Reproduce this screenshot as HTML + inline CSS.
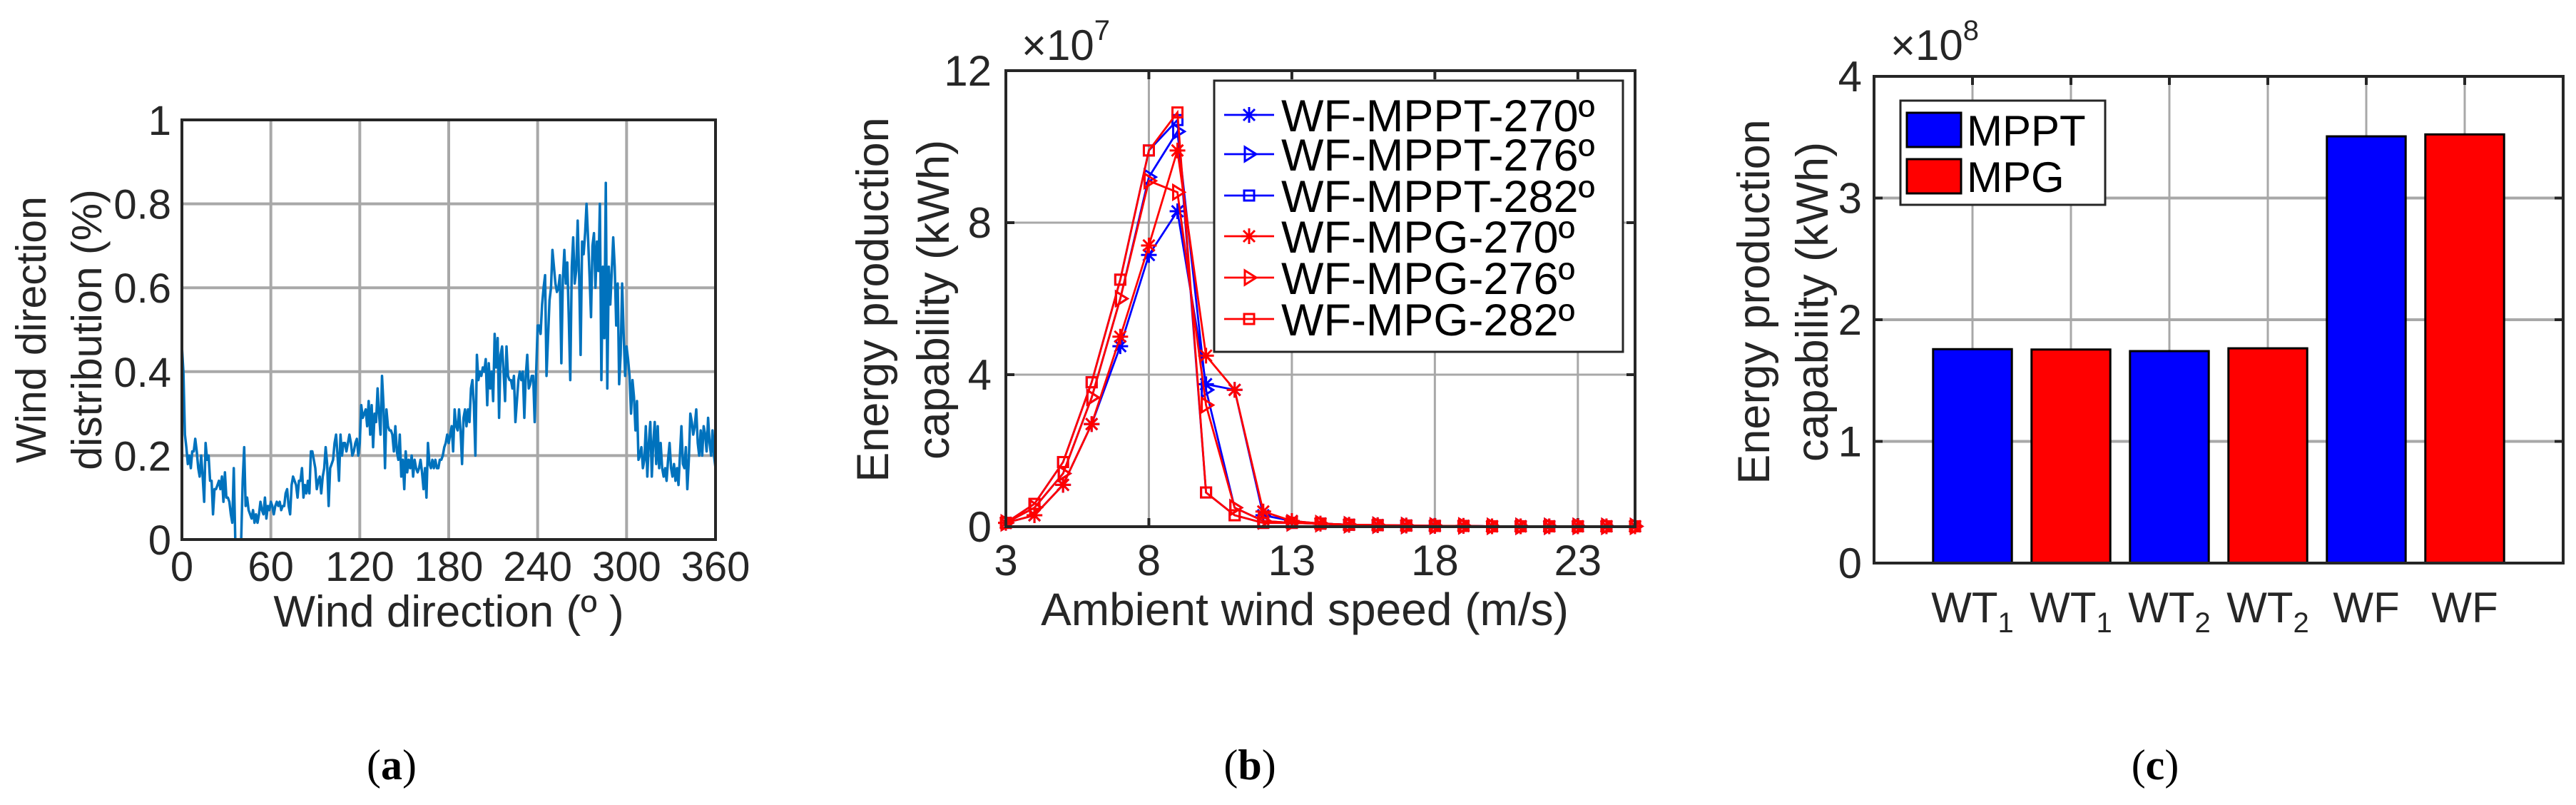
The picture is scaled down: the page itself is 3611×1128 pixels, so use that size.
<!DOCTYPE html>
<html><head><meta charset="utf-8"><style>
body{margin:0;background:#fff;}
svg{display:block;font-family:"Liberation Sans",sans-serif;}
</style></head><body>
<svg id="fig" width="3611" height="1128" viewBox="0 0 3611 1128" xmlns="http://www.w3.org/2000/svg">
<rect x="0" y="0" width="3611" height="1128" fill="#fff"/>
<g id="pa"></g>
<g id="pb"></g>
<g id="pc"></g>
<text x="549" y="1092" font-family="Liberation Serif, serif" font-size="60" text-anchor="middle" fill="#000">(<tspan font-weight="bold">a</tspan>)</text>
<text x="1752" y="1092" font-family="Liberation Serif, serif" font-size="60" text-anchor="middle" fill="#000">(<tspan font-weight="bold">b</tspan>)</text>
<text x="3021" y="1092" font-family="Liberation Serif, serif" font-size="60" text-anchor="middle" fill="#000">(<tspan font-weight="bold">c</tspan>)</text>
</svg>
<script>
// ---------- Panel A data ----------
const dirDeg0 = 0; // series starts at 0 deg, 1 deg step
const dirValues = [0.46,0.40,0.25,0.22,0.18,0.20,0.17,0.21,0.21,0.24,0.21,0.17,0.15,0.20,0.15,0.09,0.23,0.19,0.20,0.14,
0.14,0.06,0.12,0.12,0.13,0.14,0.12,0.15,0.09,0.16,0.10,0.10,0.09,0.06,0.04,0.17,0,0,0,0,
0,0.14,0.22,0.08,0.10,0.07,0.06,0.05,0.07,0.04,0.06,0.04,0.06,0.09,0.07,0.06,0.10,0.05,0.08,0.07,
0.09,0.08,0.06,0.08,0.09,0.08,0.09,0.07,0.08,0.08,0.11,0.12,0.08,0.06,0.13,0.15,0.14,0.13,0.10,0.14,
0.14,0.17,0.10,0.13,0.11,0.14,0.11,0.21,0.21,0.19,0.17,0.12,0.14,0.15,0.11,0.15,0.17,0.22,0.18,0.08,
0.17,0.18,0.19,0.23,0.25,0.20,0.14,0.25,0.20,0.23,0.23,0.21,0.23,0.25,0.23,0.20,0.21,0.23,0.24,0.20,
0.23,0.32,0.29,0.30,0.31,0.27,0.33,0.25,0.32,0.22,0.30,0.28,0.36,0.30,0.25,0.39,0.32,0.17,0.31,0.27,
0.26,0.26,0.25,0.21,0.27,0.21,0.19,0.25,0.15,0.19,0.12,0.21,0.16,0.19,0.17,0.20,0.15,0.19,0.17,0.16,
0.17,0.19,0.16,0.12,0.17,0.10,0.23,0.18,0.17,0.19,0.17,0.19,0.17,0.17,0.19,0.19,0.20,0.22,0.23,0.25,
0.23,0.25,0.27,0.21,0.31,0.27,0.26,0.31,0.26,0.18,0.29,0.31,0.27,0.31,0.28,0.36,0.38,0.32,0.20,0.44,
0.38,0.40,0.39,0.41,0.40,0.43,0.32,0.42,0.36,0.40,0.33,0.49,0.41,0.48,0.29,0.44,0.46,0.40,0.33,0.46,
0.39,0.38,0.38,0.36,0.39,0.28,0.33,0.38,0.40,0.38,0.40,0.29,0.39,0.44,0.36,0.37,0.39,0.39,0.28,0.40,
0.51,0.51,0.49,0.56,0.60,0.63,0.39,0.48,0.57,0.60,0.69,0.65,0.61,0.59,0.60,0.63,0.42,0.62,0.69,0.61,
0.66,0.53,0.38,0.65,0.72,0.61,0.64,0.76,0.63,0.44,0.71,0.68,0.73,0.80,0.72,0.63,0.53,0.70,0.73,0.60,
0.71,0.64,0.80,0.38,0.65,0.48,0.85,0.36,0.65,0.56,0.64,0.72,0.65,0.51,0.61,0.37,0.44,0.61,0.49,0.39,
0.46,0.43,0.39,0.30,0.38,0.34,0.26,0.33,0.19,0.20,0.22,0.17,0.19,0.27,0.15,0.23,0.28,0.15,0.23,0.28,
0.18,0.27,0.17,0.23,0.17,0.15,0.17,0.14,0.19,0.23,0.17,0.15,0.18,0.14,0.17,0.13,0.20,0.27,0.18,0.17,
0.22,0.12,0.19,0.30,0.28,0.25,0.27,0.31,0.23,0.20,0.26,0.20,0.27,0.25,0.21,0.29,0.23,0.20,0.26,0.20,0.17];
const dirXTicks = [0,60,120,180,240,300,360];
const dirYTicks = [0,0.2,0.4,0.6,0.8,1];
const dirYTickLabels = ["0","0.2","0.4","0.6","0.8","1"];

// ---------- Panel B data ----------
const speedX = [3,4,5,6,7,8,9,10,11,12,13,14,15,16,17,18,19,20,21,22,23,24,25];
const mppt270 = [0.1,0.3,1.1,2.7,4.75,7.15,8.3,3.75,3.6,0.3,0.15,0.08,0.05,0.04,0.03,0.02,0.02,0.01,0.01,0.01,0.01,0.01,0.01];
const mppt276 = [0.1,0.5,1.4,3.4,6.0,9.2,10.4,3.6,0.5,0.15,0.1,0.08,0.05,0.04,0.03,0.02,0.02,0.01,0.01,0.01,0.01,0.01,0.01];
const mppt282 = [0.1,0.6,1.7,3.8,6.5,9.9,10.7,0.9,0.3,0.1,0.1,0.08,0.05,0.04,0.03,0.02,0.02,0.01,0.01,0.01,0.01,0.01,0.01];
const mpg270 = [0.1,0.3,1.1,2.7,5.0,7.4,9.9,4.5,3.6,0.4,0.15,0.08,0.05,0.04,0.03,0.02,0.02,0.01,0.01,0.01,0.01,0.01,0.01];
const mpg276 = [0.1,0.5,1.4,3.4,6.0,9.1,8.8,3.2,0.5,0.15,0.1,0.08,0.05,0.04,0.03,0.02,0.02,0.01,0.01,0.01,0.01,0.01,0.01];
const mpg282 = [0.1,0.6,1.7,3.8,6.5,9.9,10.9,0.9,0.3,0.1,0.1,0.08,0.05,0.04,0.03,0.02,0.02,0.01,0.01,0.01,0.01,0.01,0.01];
const speedXTicks = [3,8,13,18,23];
const energyYTicks = [0,4,8,12];
const seriesNames = ["WF-MPPT-270º","WF-MPPT-276º","WF-MPPT-282º","WF-MPG-270º","WF-MPG-276º","WF-MPG-282º"];

// ---------- Panel C data ----------
const barCategories = ["WT1","WT1","WT2","WT2","WF","WF"];
const barValues = [1.758,1.755,1.742,1.765,3.507,3.523];
const barSeries = ["MPPT","MPG","MPPT","MPG","MPPT","MPG"];
const barYTicks = [0,1,2,3,4];

const NS = "http://www.w3.org/2000/svg";
function mk(parent, tag, attrs){const e=document.createElementNS(NS,tag);for(const k in attrs)e.setAttribute(k,attrs[k]);parent.appendChild(e);return e;}
const TXT="#262626", GRID="#a8a8a8", AX="#262626";
const TICKF=58, TITLEF=62;

// ===== Panel A =====
(function(){
  const g=document.getElementById('pa');
  const L=255,R=1003,T=168,B=756;
  const xs=d=>L+(d-0)/360*(R-L);
  const ys=v=>B-v*(B-T);
  dirXTicks.forEach(t=>{
    if(t>0&&t<360){const l=mk(g,'line',{x1:xs(t),x2:xs(t),y1:T,y2:B,stroke:GRID,'stroke-width':4});
    
    }
    const tx=mk(g,'text',{x:xs(t),y:814,'font-size':TICKF,'text-anchor':'middle',fill:TXT});
    tx.textContent=t;
    
    
  });
  dirYTicks.forEach((t,i)=>{
    if(t>0&&t<1){const l=mk(g,'line',{x1:L,x2:R,y1:ys(t),y2:ys(t),stroke:GRID,'stroke-width':4});
    
    }
    const tx=mk(g,'text',{x:240,y:ys(t)+21,'font-size':TICKF,'text-anchor':'end',fill:TXT});
    tx.textContent=dirYTickLabels[i];
    
    
  });
  const pts=dirValues.map((v,i)=>xs(dirDeg0+i).toFixed(1)+','+ys(v).toFixed(1)).join(' ');
  const pl=mk(g,'polyline',{points:pts,fill:'none',stroke:'#0072BD','stroke-width':3.5,'stroke-linejoin':'round'});
  
  
  const box=mk(g,'rect',{x:L,y:T,width:R-L,height:B-T,fill:'none',stroke:AX,'stroke-width':4});
  
  
  const xt=mk(g,'text',{x:(L+R)/2,y:878,'font-size':TITLEF,'text-anchor':'middle',fill:TXT});
  xt.textContent='Wind direction (º )';
  
  
  const yt=mk(g,'text',{transform:'translate(64,462) rotate(-90)','font-size':59,'text-anchor':'middle',fill:TXT});
  yt.textContent='Wind direction';
  
  
  const yt2=mk(g,'text',{transform:'translate(142,462) rotate(-90)','font-size':59,'text-anchor':'middle',fill:TXT});
  yt2.textContent='distribution (%)';
  
  
})();

// ===== Panel B =====
function marker(g,type,x,y,color){
  let e;
  if(type==='star'){
    e=mk(g,'path',{d:`M${x-11},${y}H${x+11}M${x},${y-11}V${y+11}M${x-8},${y-8}L${x+8},${y+8}M${x-8},${y+8}L${x+8},${y-8}`,stroke:color,'stroke-width':3,fill:'none'});
  }else if(type==='tri'){
    e=mk(g,'path',{d:`M${x-6},${y-10}L${x+10},${y}L${x-6},${y+10}Z`,stroke:color,'stroke-width':3,fill:'none'});
  }else{
    e=mk(g,'rect',{x:x-7,y:y-7,width:14,height:14,stroke:color,'stroke-width':3,fill:'none'});
  }
  return e;
}
(function(){
  const g=document.getElementById('pb');
  const L=1410,R=2292,T=99,B=738;
  const xs=v=>L+(v-3)/22*(R-L);
  const ys=v=>B-v/12*(B-T);
  speedXTicks.forEach(t=>{
    if(t>3){const l=mk(g,'line',{x1:xs(t),x2:xs(t),y1:T,y2:B,stroke:GRID,'stroke-width':3});
    
    }
    const tk=mk(g,'path',{d:`M${xs(t)},${B}v-12M${xs(t)},${T}v12`,stroke:AX,'stroke-width':4});
    
    
    const tx=mk(g,'text',{x:xs(t),y:806,'font-size':TICKF+2,'text-anchor':'middle',fill:TXT});
    tx.textContent=t;
    
    
  });
  energyYTicks.forEach(t=>{
    if(t>0&&t<12){const l=mk(g,'line',{x1:L,x2:R,y1:ys(t),y2:ys(t),stroke:GRID,'stroke-width':3});
    
    }
    const tk=mk(g,'path',{d:`M${L},${ys(t)}h12M${R},${ys(t)}h-12`,stroke:AX,'stroke-width':4});
    
    
    const tx=mk(g,'text',{x:1390,y:ys(t)+21,'font-size':TICKF+2,'text-anchor':'end',fill:TXT});
    tx.textContent=t;
    
    
  });
  const sets=[[mppt270,'#0000ff','star'],[mppt276,'#0000ff','tri'],[mppt282,'#0000ff','sq'],[mpg270,'#ff0000','star'],[mpg276,'#ff0000','tri'],[mpg282,'#ff0000','sq']];
  sets.forEach((s,si)=>{
    const sg=mk(g,'g',{});
    
    
    const pts=s[0].map((v,i)=>xs(speedX[i]).toFixed(1)+','+ys(v).toFixed(1)).join(' ');
    const pl=mk(sg,'polyline',{points:pts,fill:'none',stroke:s[1],'stroke-width':2.8});
    
    
    s[0].forEach((v,i)=>{
      const m=marker(sg,s[2],xs(speedX[i]),ys(v),s[1]);
      
      
    });
  });
  const box=mk(g,'rect',{x:L,y:T,width:R-L,height:B-T,fill:'none',stroke:AX,'stroke-width':4});
  
  
  const lg=mk(g,'g',{});
  
  
  const lb=mk(lg,'rect',{x:1702,y:113,width:573,height:380,fill:'#fff',stroke:AX,'stroke-width':3});
  
  
  const rowsY=[161,216,274,331,389,447];
  sets.forEach((s,i)=>{
    const y=rowsY[i];
    const ln=mk(lg,'line',{x1:1716,x2:1786,y1:y,y2:y,stroke:s[1],'stroke-width':2.8});
    
    
    const m=marker(lg,s[2],1751,y,s[1]);
    
    
    const tx=mk(lg,'text',{x:1796,y:y+23,'font-size':63,fill:'#000'});
    tx.textContent=seriesNames[i];
    
    
  });
  const ex=mk(g,'text',{x:1432,y:84,'font-size':60,fill:TXT});
  ex.innerHTML='×10<tspan font-size="40" dy="-28">7</tspan>';
  
  
  const xt=mk(g,'text',{x:1829,y:876,'font-size':TITLEF+2,'text-anchor':'middle',fill:TXT});
  xt.textContent='Ambient wind speed (m/s)';
  
  
  const yt=mk(g,'text',{transform:'translate(1245,420) rotate(-90)','font-size':63,'text-anchor':'middle',fill:TXT});
  yt.textContent='Energy production';
  
  
  const yt2=mk(g,'text',{transform:'translate(1330,420) rotate(-90)','font-size':63,'text-anchor':'middle',fill:TXT});
  yt2.setAttribute('xml:space','preserve');
  yt2.textContent='capability  (kWh)';
  
  
})();

// ===== Panel C =====
(function(){
  const g=document.getElementById('pc');
  const L=2627,R=3593,T=107,B=789;
  const step=(R-L)/(barCategories.length+1);
  const xs=i=>L+(i+1)*step;
  const ys=v=>B-v/4*(B-T);
  barCategories.forEach((c,i)=>{
    const l=mk(g,'line',{x1:xs(i),x2:xs(i),y1:T,y2:B,stroke:GRID,'stroke-width':3});
    
    
    const tk=mk(g,'path',{d:`M${xs(i)},${B}v-12M${xs(i)},${T}v12`,stroke:AX,'stroke-width':4});
    
    
  });
  barYTicks.forEach(t=>{
    if(t>0&&t<4){const l=mk(g,'line',{x1:L,x2:R,y1:ys(t),y2:ys(t),stroke:GRID,'stroke-width':4});
    
    }
    const tk=mk(g,'path',{d:`M${L},${ys(t)}h12M${R},${ys(t)}h-12`,stroke:AX,'stroke-width':4});
    
    
    const tx=mk(g,'text',{x:2610,y:ys(t)+21,'font-size':TICKF+2,'text-anchor':'end',fill:TXT});
    tx.textContent=t;
    
    
  });
  const bw=step*0.8;
  barValues.forEach((v,i)=>{
    const r=mk(g,'rect',{x:xs(i)-bw/2,y:ys(v),width:bw,height:B-ys(v),fill:barSeries[i]==='MPPT'?'#0000ff':'#ff0000',stroke:'#000','stroke-width':3});
    
    
    const tx=mk(g,'text',{x:xs(i),y:872,'font-size':60,'text-anchor':'middle',fill:TXT});
    const m=barCategories[i].match(/^([A-Z]+)(\d*)$/);
    tx.textContent=m[1];
    if(m[2]){const s=mk(tx,'tspan',{'font-size':40,dy:14});s.textContent=m[2];}
    
    
  });
  const box=mk(g,'rect',{x:L,y:T,width:R-L,height:B-T,fill:'none',stroke:AX,'stroke-width':4});
  
  
  const lg=mk(g,'g',{});
  
  
  const lb=mk(lg,'rect',{x:2664,y:141,width:287,height:146,fill:'#fff',stroke:AX,'stroke-width':3});
  
  
  [['MPPT','#0000ff',182],['MPG','#ff0000',247]].forEach(e=>{
    const p=mk(lg,'rect',{x:2673,y:e[2]-24,width:76,height:48,fill:e[1],stroke:'#000','stroke-width':3});
    
    
    const tx=mk(lg,'text',{x:2757,y:e[2]+22,'font-size':60,fill:'#000'});
    tx.textContent=e[0];
    
    
  });
  const ex=mk(g,'text',{x:2650,y:84,'font-size':60,fill:TXT});
  ex.innerHTML='×10<tspan font-size="40" dy="-28">8</tspan>';
  
  
  const yt=mk(g,'text',{transform:'translate(2480,423) rotate(-90)','font-size':63,'text-anchor':'middle',fill:TXT});
  yt.textContent='Energy production';
  
  
  const yt2=mk(g,'text',{transform:'translate(2562,423) rotate(-90)','font-size':63,'text-anchor':'middle',fill:TXT});
  yt2.setAttribute('xml:space','preserve');
  yt2.textContent='capability  (kWh)';
  
  
})();
</script>
</body></html>
